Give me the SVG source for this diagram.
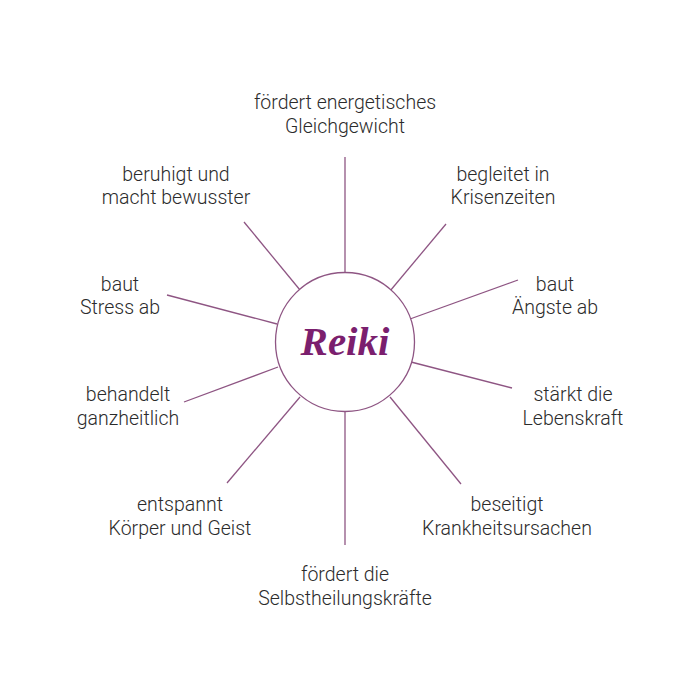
<svg xmlns="http://www.w3.org/2000/svg" width="700" height="700" viewBox="0 0 700 700">
<style>
.t{font-family:Roboto,"Liberation Sans",sans-serif;font-weight:300;font-size:19.5px;fill:#2b2b2b;text-anchor:middle}
.c line{stroke:#8e5583;stroke-width:1.3}
</style>
<rect width="700" height="700" fill="#fff"/>
<g class="c" id="connectors">
<line x1="345" y1="157" x2="345" y2="272"/>
<line x1="345" y1="412" x2="345" y2="545"/>
<line x1="390" y1="291" x2="446" y2="224"/>
<line x1="410" y1="319" x2="518" y2="280"/>
<line x1="411" y1="362" x2="512" y2="388"/>
<line x1="390" y1="397" x2="461" y2="484"/>
<line x1="300" y1="290" x2="244" y2="222"/>
<line x1="277" y1="324" x2="167" y2="295"/>
<line x1="278" y1="367" x2="184" y2="402"/>
<line x1="300" y1="397" x2="227" y2="483"/>
</g>
<g id="center">
<circle cx="345" cy="342" r="69.5" fill="#fff" stroke="#8e5583" stroke-width="1.3"/>
<text x="345" y="355" font-family="'Liberation Serif',serif" font-style="italic" font-weight="bold" font-size="41" fill="#7b1f6e" text-anchor="middle">Reiki</text>
</g>
<g id="n1"><text class="t" x="345" y="109">fördert energetisches</text><text class="t" x="345" y="133">Gleichgewicht</text></g>
<g id="n2"><text class="t" x="503" y="181">begleitet in</text><text class="t" x="503" y="204">Krisenzeiten</text></g>
<g id="n3"><text class="t" x="555" y="291">baut</text><text class="t" x="555" y="314">Ängste ab</text></g>
<g id="n4"><text class="t" x="573" y="401">stärkt die</text><text class="t" x="573" y="425">Lebenskraft</text></g>
<g id="n5"><text class="t" x="507" y="511">beseitigt</text><text class="t" x="507" y="535">Krankheitsursachen</text></g>
<g id="n6"><text class="t" x="345" y="581">fördert die</text><text class="t" x="345" y="605">Selbstheilungskräfte</text></g>
<g id="n7"><text class="t" x="180" y="511">entspannt</text><text class="t" x="180" y="535">Körper und Geist</text></g>
<g id="n8"><text class="t" x="128" y="401">behandelt</text><text class="t" x="128" y="425">ganzheitlich</text></g>
<g id="n9"><text class="t" x="120" y="291">baut</text><text class="t" x="120" y="314">Stress ab</text></g>
<g id="n10"><text class="t" x="176" y="181">beruhigt und</text><text class="t" x="176" y="204">macht bewusster</text></g>
</svg>
